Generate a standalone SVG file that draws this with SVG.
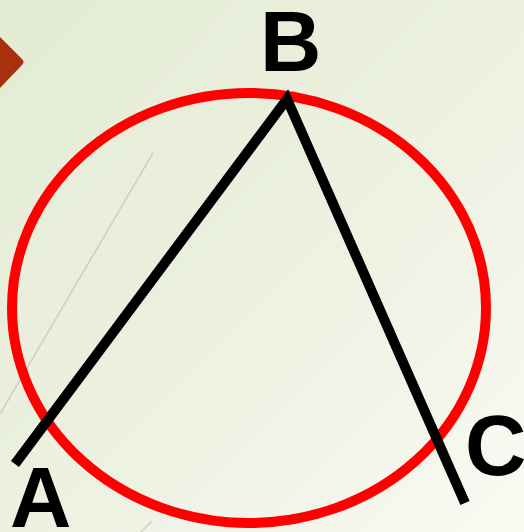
<svg xmlns="http://www.w3.org/2000/svg" width="524" height="532" viewBox="0 0 524 532">
<defs>
<linearGradient id="bg" x1="0" y1="0" x2="1" y2="1">
<stop offset="0" stop-color="#e3ebd2"/>
<stop offset="0.6" stop-color="#eef2e3"/>
<stop offset="1" stop-color="#fafaf3"/>
</linearGradient>
<style>
.lbl{font-family:"Liberation Sans",Arial,sans-serif;font-weight:bold;font-size:85px;fill:#000}
.seg{fill:none;stroke:#000;stroke-width:10;stroke-linejoin:miter}
.deco{stroke:#cfcfc0;stroke-width:1.5;fill:none}
</style>
</defs>
<rect width="524" height="532" fill="url(#bg)"/>
<path d="M0 37 L22 59 Q25 62 22 65 L0 88 Z" fill="#a8300f"/>
<line class="deco" x1="153" y1="153" x2="0" y2="414"/>
<line class="deco" x1="152" y1="521" x2="141" y2="532"/>
<g id="circle">
<ellipse cx="249" cy="308" rx="237" ry="215" fill="none" stroke="#ff0000" stroke-width="10"/>
</g>
<g id="connectors">
<polyline class="seg" points="15,464 287,99 465,503"/>
</g>
<g id="A"><text class="lbl" x="10" y="527">A</text></g>
<g id="B"><text class="lbl" x="260" y="71">B</text></g>
<g id="C"><text class="lbl" x="465" y="475">C</text></g>
</svg>
